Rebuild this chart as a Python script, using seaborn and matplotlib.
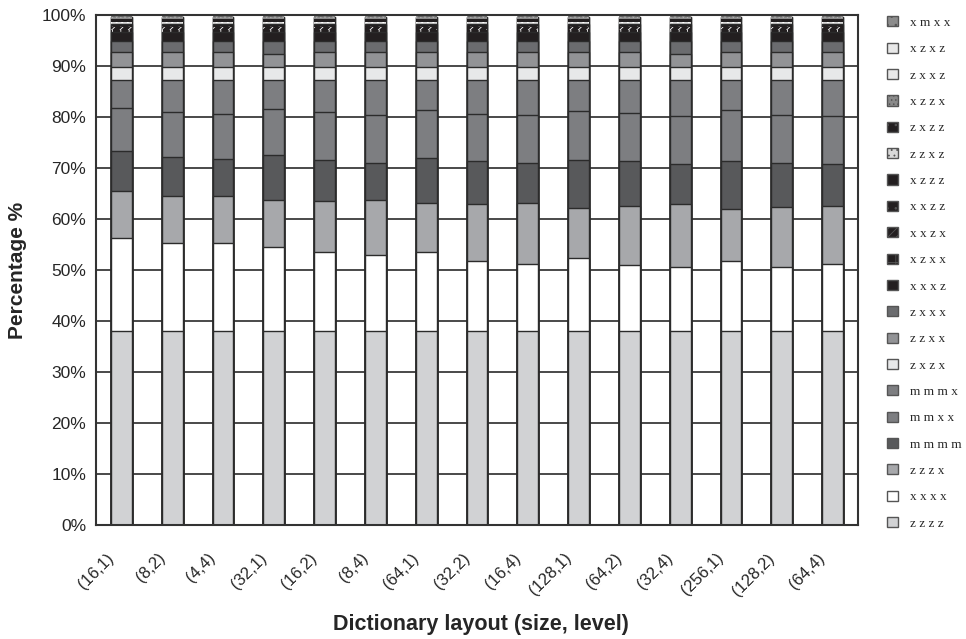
import numpy as np
import pandas as pd
import matplotlib.pyplot as plt
import matplotlib.transforms as mtransforms
import seaborn as sns
from matplotlib.patches import Patch
from matplotlib.ticker import FixedLocator, PercentFormatter

# Categorías (tamaño, nivel)
layouts = ['(16,1)', '(8,2)', '(4,4)', '(32,1)', '(16,2)', '(8,4)', '(64,1)', '(32,2)',
           '(16,4)', '(128,1)', '(64,2)', '(32,4)', '(256,1)', '(128,2)', '(64,4)']

# Porcentajes por serie, de abajo hacia arriba
zzzz = [38.0, 38.0, 38.0, 38.0, 38.0, 38.0, 38.0, 38.0, 38.0, 38.0, 38.0, 38.0, 38.0, 38.0, 38.0]
xxxx = [18.2, 17.2, 17.2, 16.5, 15.6, 14.9, 15.5, 13.8, 13.2, 14.4, 13.0, 12.6, 13.8, 12.5, 13.2]
zzzx = [9.3, 9.4, 9.4, 9.2, 9.9, 10.8, 9.6, 11.1, 11.9, 9.8, 11.5, 12.3, 10.2, 11.8, 11.3]
mmmm = [7.9, 7.6, 7.1, 8.8, 8.1, 7.3, 8.8, 8.5, 7.9, 9.4, 8.9, 7.9, 9.4, 8.7, 8.3]
mmxx = [8.4, 8.8, 8.9, 9.1, 9.3, 9.4, 9.5, 9.2, 9.3, 9.6, 9.3, 9.4, 10.0, 9.4, 9.4]
mmmx = [5.4, 6.2, 6.6, 5.6, 6.3, 6.8, 5.8, 6.6, 6.9, 6.0, 6.5, 7.0, 5.8, 6.8, 7.0]
zxzx = [2.6, 2.6, 2.6, 2.6, 2.6, 2.6, 2.6, 2.6, 2.6, 2.6, 2.6, 2.6, 2.6, 2.6, 2.6]
zzxx = [2.9, 2.9, 2.9, 2.6, 2.9, 2.9, 2.9, 2.9, 2.9, 2.9, 2.9, 2.6, 2.9, 2.9, 2.9]
zxxx = [2.2, 2.2, 2.2, 2.5, 2.2, 2.2, 2.2, 2.2, 2.2, 2.2, 2.2, 2.5, 2.2, 2.2, 2.2]
xxxz = [1.7] * 15
xzxx = [0.5] * 15
xxzx = [0.5] * 15
xxzz = [0.3] * 15
xzzz = [0.4] * 15
zzxz = [0.4] * 15
zxzz = [0.6] * 15
xzzx = [0.3] * 15
zxxz = [0.05] * 15
xzxz = [0.05] * 15
xmxx = [0.3] * 15

# nombre, valores, relleno, trama, color de trama
series = [
    ('zzzz', zzzz, '#d1d2d4', None, None),
    ('xxxx', xxxx, '#ffffff', None, None),
    ('zzzx', zzzx, '#a7a8ab', None, None),
    ('mmmm', mmmm, '#58595b', None, None),
    ('mmxx', mmxx, '#7d7e81', None, None),
    ('mmmx', mmmx, '#7d7e81', None, None),
    ('zxzx', zxzx, '#e7e8e9', None, None),
    ('zzxx', zzxx, '#929396', None, None),
    ('zxxx', zxxx, '#6b6c6f', None, None),
    ('xxxz', xxxz, '#231f20', None, None),
    ('xzxx', xzxx, '#231f20', '++', '#ffffff'),
    ('xxzx', xxzx, '#231f20', '////', '#ffffff'),
    ('xxzz', xxzz, '#231f20', '..', '#ffffff'),
    ('xzzz', xzzz, '#231f20', None, None),
    ('zzxz', zzxz, '#d9d9d9', '...', '#ffffff'),
    ('zxzz', zxzz, '#231f20', '..', '#555555'),
    ('xzzx', xzzx, '#8a8a8a', '....', '#dddddd'),
    ('zxxz', zxxz, '#e8e8e8', None, None),
    ('xzxz', xzxz, '#e8e8e8', None, None),
    ('xmxx', xmxx, '#8c8c8c', '..', '#bbbbbb'),
]

df = pd.DataFrame({name: vals for name, vals, _, _, _ in series}, index=layouts)
cum = df.cumsum(axis=1)

sns.set_style('white')
plt.rcParams['font.family'] = ['Liberation Sans', 'DejaVu Sans']
plt.rcParams['hatch.linewidth'] = 0.6

fig = plt.figure(figsize=(9.66, 6.39), dpi=100)
ax = fig.add_axes([0.0994, 0.1784, 0.7888, 0.7981])

# rejilla detras de las barras
for v in range(10, 100, 10):
    ax.axhline(v, color='#3a3a3a', lw=1.3, zorder=0)

# barras acumuladas, de la capa superior a la inferior
for name, vals, face, hatch, hcol in reversed(series):
    if hatch is None:
        sns.barplot(x=layouts, y=cum[name].values, color=face, saturation=1,
                    width=0.41, edgecolor='#2b2b2b', linewidth=1.0, ax=ax, zorder=2)
    else:
        sns.barplot(x=layouts, y=cum[name].values, color=face, saturation=1,
                    width=0.41, edgecolor=hcol, linewidth=0, hatch=hatch, ax=ax, zorder=2)

ax.set_xlim(-0.5, len(layouts) - 0.5)
ax.set_ylim(0, 100)
ax.yaxis.set_major_locator(FixedLocator(np.arange(0, 101, 10)))
ax.yaxis.set_major_formatter(PercentFormatter(decimals=0))
ax.tick_params(axis='y', labelsize=12.5, length=3, width=1.2, color='#333333', pad=4)
ax.tick_params(axis='x', which='major', length=0, pad=9)
ax.xaxis.set_minor_locator(FixedLocator(np.arange(0.5, len(layouts) - 1, 1)))
ax.tick_params(axis='x', which='minor', direction='in', length=6, width=1.2, color='#333333')
offset = mtransforms.ScaledTranslation(-15 / 100, -13 / 100, fig.dpi_scale_trans)
for lbl in ax.get_xticklabels():
    lbl.set_rotation(45)
    lbl.set_ha('right')
    lbl.set_rotation_mode('anchor')
    lbl.set_fontsize(12)
    lbl.set_transform(lbl.get_transform() + offset)

for s in ax.spines.values():
    s.set_color('#333333')
    s.set_linewidth(1.5)

ax.set_xlabel('Dictionary layout (size, level)', fontsize=15.5, fontweight='bold')
ax.set_ylabel('Percentage %', fontsize=15, fontweight='bold')
ax.xaxis.set_label_coords(0.505, -0.175)
ax.yaxis.set_label_coords(-0.09, 0.5)

# leyenda
handles = [Patch(facecolor=face, edgecolor='#555555', hatch=hatch, linewidth=1.0, label=' '.join(name))
           for name, vals, face, hatch, hcol in reversed(series)]
fig.legend(handles=handles, loc='upper left', bbox_to_anchor=(0.906, 0.993), frameon=False,
           handlelength=0.8, handleheight=0.8, handletextpad=0.9, labelspacing=1.04,
           prop={'family': 'Liberation Serif', 'size': 9.5})

fig.savefig('out.png', dpi=100)
